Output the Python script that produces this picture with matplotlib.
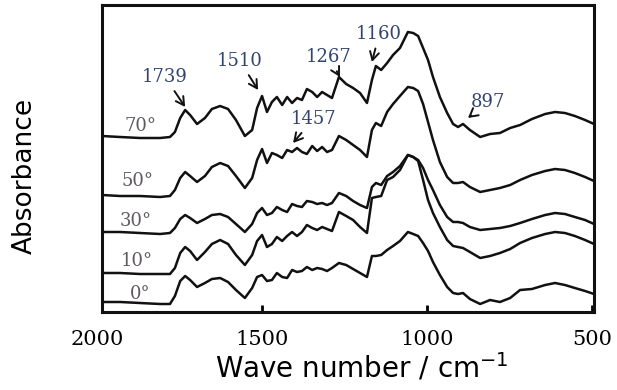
import matplotlib.pyplot as plt
from matplotlib.transforms import offset_copy

# wavenumber grid (cm-1) shared by all spectra
wavenumber = [1985, 1930, 1870, 1809, 1779, 1764, 1748, 1733, 1718, 1697,
              1673, 1652, 1627, 1603, 1579, 1552, 1530, 1515, 1500, 1485,
              1470, 1455, 1439, 1424, 1409, 1394, 1379, 1364, 1348, 1333,
              1318, 1303, 1288, 1267, 1245, 1224, 1203, 1182, 1167, 1155,
              1139, 1121, 1103, 1082, 1058, 1042, 1027, 1012, 997, 982,
              961, 939, 921, 906, 891, 870, 839, 809, 779, 748,
              718, 682, 642, 612, 582, 552, 521, 494]

# stacked absorbance (arbitrary units, offsets included)
abs_70 = [1.76, 1.75, 1.74, 1.74, 1.75, 1.80, 1.94, 2.02, 1.97, 1.88,
          1.94, 2.03, 2.06, 2.03, 1.92, 1.76, 1.82, 2.04, 2.16, 2.00,
          2.10, 2.15, 2.07, 2.15, 2.09, 2.14, 2.12, 2.23, 2.20, 2.15,
          2.20, 2.17, 2.14, 2.35, 2.28, 2.24, 2.19, 2.09, 2.32, 2.46,
          2.42, 2.49, 2.57, 2.64, 2.80, 2.79, 2.76, 2.64, 2.52, 2.35,
          2.15, 1.99, 1.88, 1.85, 1.88, 1.82, 1.75, 1.78, 1.79, 1.84,
          1.87, 1.93, 1.98, 2.00, 1.99, 1.96, 1.92, 1.88]
abs_50 = [1.17, 1.16, 1.16, 1.15, 1.16, 1.22, 1.34, 1.40, 1.36, 1.30,
          1.36, 1.45, 1.49, 1.46, 1.36, 1.24, 1.34, 1.52, 1.63, 1.49,
          1.59, 1.57, 1.54, 1.62, 1.60, 1.64, 1.60, 1.58, 1.66, 1.61,
          1.65, 1.60, 1.62, 1.76, 1.72, 1.67, 1.62, 1.55, 1.82, 1.89,
          1.86, 2.00, 2.08, 2.16, 2.25, 2.24, 2.21, 2.08, 1.90, 1.72,
          1.50, 1.35, 1.29, 1.29, 1.30, 1.25, 1.20, 1.22, 1.24, 1.27,
          1.32, 1.37, 1.41, 1.43, 1.42, 1.39, 1.35, 1.31]
abs_30 = [0.80, 0.80, 0.79, 0.78, 0.79, 0.84, 0.93, 0.97, 0.94, 0.89,
          0.93, 0.97, 0.98, 0.95, 0.88, 0.80, 0.88, 0.99, 1.04, 0.97,
          0.99, 1.05, 1.02, 1.00, 1.08, 1.06, 1.05, 1.11, 1.10, 1.08,
          1.09, 1.07, 1.09, 1.19, 1.16, 1.11, 1.07, 1.04, 1.25, 1.29,
          1.27, 1.36, 1.40, 1.46, 1.57, 1.55, 1.52, 1.44, 1.32, 1.22,
          1.07, 0.95, 0.90, 0.90, 0.89, 0.85, 0.82, 0.83, 0.84, 0.86,
          0.89, 0.93, 0.97, 0.99, 0.98, 0.95, 0.92, 0.88]
abs_10 = [0.39, 0.39, 0.38, 0.38, 0.38, 0.44, 0.59, 0.65, 0.61, 0.52,
          0.60, 0.68, 0.72, 0.68, 0.57, 0.47, 0.57, 0.71, 0.77, 0.65,
          0.68, 0.75, 0.71, 0.76, 0.80, 0.76, 0.80, 0.87, 0.84, 0.82,
          0.85, 0.83, 0.81, 1.00, 0.96, 0.92, 0.85, 0.79, 1.14, 1.15,
          1.16, 1.32, 1.35, 1.42, 1.57, 1.55, 1.51, 1.32, 1.12, 0.99,
          0.85, 0.72, 0.66, 0.65, 0.64, 0.60, 0.54, 0.56, 0.59, 0.63,
          0.69, 0.74, 0.78, 0.80, 0.79, 0.76, 0.72, 0.68]
abs_0 = [0.10, 0.10, 0.09, 0.08, 0.08, 0.16, 0.31, 0.36, 0.32, 0.25,
         0.29, 0.33, 0.34, 0.30, 0.22, 0.14, 0.24, 0.35, 0.37, 0.31,
         0.32, 0.39, 0.35, 0.34, 0.42, 0.40, 0.41, 0.45, 0.42, 0.44,
         0.43, 0.41, 0.44, 0.49, 0.47, 0.43, 0.39, 0.35, 0.56, 0.56,
         0.57, 0.62, 0.66, 0.71, 0.80, 0.78, 0.76, 0.69, 0.61, 0.50,
         0.37, 0.25, 0.19, 0.18, 0.19, 0.13, 0.08, 0.12, 0.10, 0.14,
         0.22, 0.23, 0.27, 0.29, 0.27, 0.24, 0.21, 0.18]

angle_labels = ['70°', '50°', '30°', '10°', '0°']
angle_x = [1867, 1876, 1882, 1879, 1870]
angle_y = [1.86, 1.31, 0.91, 0.51, 0.18]

band_labels = ['1739', '1510', '1457', '1267', '1160', '897']
band_text_x = [1794, 1567, 1345, 1297, 1145, 815]
band_text_y = [2.35, 2.51, 1.93, 2.55, 2.78, 2.10]
band_tip_x = [1733, 1512, 1406, 1264, 1167, 876]
band_tip_y = [2.05, 2.22, 1.69, 2.35, 2.50, 1.94]

tick_values = [1500, 1000, 500]

fig = plt.figure(figsize=(6.17, 3.90), dpi=100)
ax = fig.add_axes([102 / 617, 78 / 390, 492 / 617, 307 / 390])

for spec in [abs_70, abs_50, abs_30, abs_10, abs_0]:
    ax.plot(wavenumber, spec, color='#111111', linewidth=1.8,
            solid_joinstyle='round')

ax.set_xlim(1985, 494)
ax.set_ylim(0, 3.07)

# sample angle labels
for lab, x, y in zip(angle_labels, angle_x, angle_y):
    ax.text(x, y, lab, ha='center', va='center', fontsize=13,
            family='DejaVu Serif', color='#5f5a62')

# band assignments with arrows
for lab, tx, ty, px, py in zip(band_labels, band_text_x, band_text_y,
                               band_tip_x, band_tip_y):
    ax.annotate(lab, xy=(px, py), xytext=(tx, ty), ha='center', va='center',
                fontsize=13, family='DejaVu Serif', color='#33456d',
                arrowprops=dict(arrowstyle='->, head_length=0.45, head_width=0.25',
                                color='#111111', lw=1.4, shrinkA=2, shrinkB=0))

for side in ['left', 'right', 'top', 'bottom']:
    ax.spines[side].set_linewidth(2.2)
    ax.spines[side].set_color('#111111')

ax.set_yticks([])
ax.set_xticks(tick_values)
ax.set_xticklabels([str(v) for v in tick_values], family='DejaVu Serif',
                   fontsize=15)
ax.tick_params(axis='x', direction='in', length=5, width=2, pad=13)

# 2000 sits just outside the plotted range
lab_tr = offset_copy(ax.get_xaxis_transform(), fig=fig, y=-13, units='points')
ax.text(2000, 0, '2000', transform=lab_tr, ha='center', va='top',
        family='DejaVu Serif', fontsize=15, clip_on=False)

ax.set_xlabel('Wave number / cm$^{\\mathregular{-1}}$', fontsize=20,
              family='DejaVu Sans')
ax.xaxis.set_label_coords(0.528, -0.13)
ax.set_ylabel('Absorbance', fontsize=19, family='DejaVu Sans')
ax.yaxis.set_label_coords(-0.13, 0.443)

fig.savefig('out.png', dpi=100)
